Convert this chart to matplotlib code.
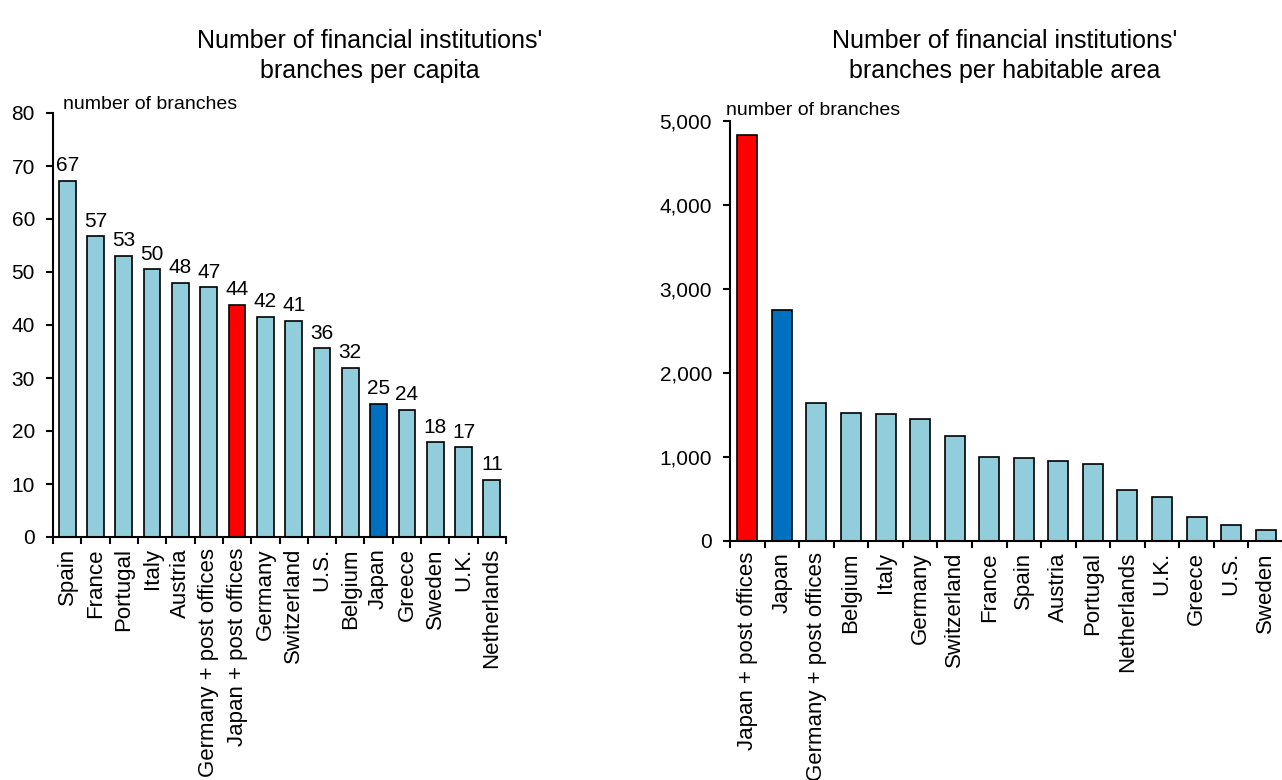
import matplotlib.pyplot as plt
from matplotlib import font_manager
from matplotlib.ticker import FixedLocator, FuncFormatter

plt.rcParams['font.family'] = ['Liberation Sans', 'DejaVu Sans']

installed = {f.name for f in font_manager.fontManager.ttflist}
title_family = 'Liberation Sans Narrow' if 'Liberation Sans Narrow' in installed else 'Liberation Sans'

# per capita (left)
cap_names = ["Spain", "France", "Portugal", "Italy", "Austria", "Germany + post offices",
             "Japan + post offices", "Germany", "Switzerland", "U.S.", "Belgium", "Japan",
             "Greece", "Sweden", "U.K.", "Netherlands"]
cap_values = [67.2, 56.7, 53.1, 50.5, 48.0, 47.1, 43.8, 41.6, 40.8, 35.6, 31.9, 25.1,
              24.0, 17.9, 16.9, 10.8]
cap_labels = [67, 57, 53, 50, 48, 47, 44, 42, 41, 36, 32, 25, 24, 18, 17, 11]

# per habitable area (right)
area_names = ["Japan + post offices", "Japan", "Germany + post offices", "Belgium", "Italy",
              "Germany", "Switzerland", "France", "Spain", "Austria", "Portugal",
              "Netherlands", "U.K.", "Greece", "U.S.", "Sweden"]
area_values = [4838, 2755, 1643, 1529, 1512, 1449, 1250, 996, 985, 949, 917, 607, 524,
               290, 187, 136]

LIGHT = '#92CDDC'
RED = '#FF0000'
BLUE = '#0070C0'

def bar_colors(names):
    cols = []
    for n in names:
        if n == "Japan + post offices":
            cols.append(RED)
        elif n == "Japan":
            cols.append(BLUE)
        else:
            cols.append(LIGHT)
    return cols

def style_axis(ax, names):
    n = len(names)
    ax.set_xlim(-0.5, n - 0.5)
    ax.spines['top'].set_visible(False)
    ax.spines['right'].set_visible(False)
    ax.spines['left'].set_linewidth(1.5)
    ax.spines['bottom'].set_linewidth(1.5)
    ax.set_xticks(range(n))
    ax.set_xticklabels(names, rotation=90, fontsize=16, va='top', ha='center')
    ax.xaxis.set_minor_locator(FixedLocator([i - 0.5 for i in range(n + 1)]))
    ax.tick_params(axis='x', which='major', length=0, pad=8)
    ax.tick_params(axis='x', which='minor', length=5, width=1.5, direction='out')
    ax.tick_params(axis='y', which='major', length=5, width=1.5, direction='out',
                   labelsize=15, pad=8)

fig = plt.figure(figsize=(12.82, 7.8), dpi=100)

# left chart
ax1 = fig.add_axes([53 / 1282, 243 / 780, 453 / 1282, 424 / 780])
x1 = range(len(cap_names))
bars = ax1.bar(x1, cap_values, width=0.59, color=bar_colors(cap_names),
               edgecolor='black', linewidth=1.2)
ax1.set_ylim(0, 80)
ax1.set_yticks(range(0, 81, 10))
style_axis(ax1, cap_names)
for b, lab in zip(bars, cap_labels):
    ax1.annotate(str(lab), (b.get_x() + b.get_width() / 2, b.get_height()),
                 xytext=(0, 4), textcoords='offset points', ha='center', va='bottom',
                 fontsize=15)
ax1.text(0.022, 1.0, 'number of branches', transform=ax1.transAxes, fontsize=14,
         ha='left', va='bottom')
fig.text(370 / 1282, 1 - 56 / 780, "Number of financial institutions'\nbranches per capita",
         ha='center', va='center', fontsize=18, linespacing=1.32, family=title_family)

# right chart
ax2 = fig.add_axes([730 / 1282, 239 / 780, 553 / 1282, 420 / 780])
x2 = range(len(area_names))
ax2.bar(x2, area_values, width=0.58, color=bar_colors(area_names),
        edgecolor='black', linewidth=1.2)
ax2.set_ylim(0, 5000)
ax2.set_yticks(range(0, 5001, 1000))
ax2.yaxis.set_major_formatter(FuncFormatter(lambda v, p: f'{int(v):,}'))
style_axis(ax2, area_names)
ax2.text(-0.007, 1.005, 'number of branches', transform=ax2.transAxes, fontsize=14,
         ha='left', va='bottom')
fig.text(1005 / 1282, 1 - 56 / 780,
         "Number of financial institutions'\nbranches per habitable area",
         ha='center', va='center', fontsize=18, linespacing=1.32, family=title_family)

fig.savefig('out.png', dpi=100)
